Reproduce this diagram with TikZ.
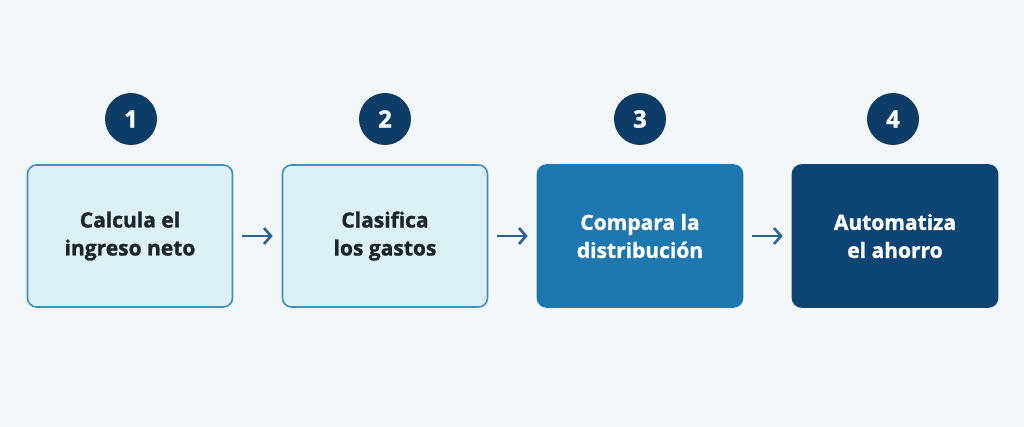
\documentclass[tikz,border=0pt]{standalone}
\usepackage{fontspec}
\setmainfont{Open Sans}[FakeBold=1.2]
\usetikzlibrary{arrows.meta}
\definecolor{bg}{HTML}{F4F7FA}
\definecolor{lightfill}{HTML}{DDF0F8}
\definecolor{lightborder}{HTML}{3F8FBD}
\definecolor{midfill}{HTML}{1E77AE}
\definecolor{darkfill}{HTML}{0E4474}
\definecolor{navy}{HTML}{0D3D66}
\definecolor{arrowc}{HTML}{2A6496}
\definecolor{txt}{HTML}{1B2530}
\tikzset{
  stepbox/.style={rounded corners=9pt, minimum width=205pt, minimum height=142pt, align=center, font=\fontsize{21}{28}\selectfont\bfseries, line width=1.6pt},
  lightbox/.style={stepbox, fill=lightfill, draw=lightborder, text=txt},
  midbox/.style={stepbox, fill=midfill, draw=midfill, text=white},
  darkbox/.style={stepbox, fill=darkfill, draw=darkfill, text=white},
  badge/.style={circle, fill=navy, text=white, minimum size=52pt, inner sep=0pt, font=\fontsize{24}{24}\selectfont\bfseries},
  flow/.style={-{Straight Barb[length=7pt,width=16pt,line width=2.6pt]}, line width=2.6pt, draw=arrowc}
}
\begin{document}
\begin{tikzpicture}[x=1pt,y=-1pt]
\fill[bg] (0,0) rectangle (1024,427);
\useasboundingbox (0,0) rectangle (1024,427);
\node[lightbox] (b1) at (130,236) {Calcula el\\ingreso neto};
\node[lightbox] (b2) at (385,236) {Clasifica\\los gastos};
\node[midbox] (b3) at (640,236) {Compara la\\distribución};
\node[darkbox] (b4) at (895,236) {Automatiza\\el ahorro};
\node[badge] (c1) at (131,119) {1};
\node[badge] (c2) at (385,119) {2};
\node[badge] (c3) at (640,119) {3};
\node[badge] (c4) at (893,119) {4};
\draw[flow] ([xshift=9pt]b1.east) -- ([xshift=-9pt]b2.west);
\draw[flow] ([xshift=9pt]b2.east) -- ([xshift=-9pt]b3.west);
\draw[flow] ([xshift=9pt]b3.east) -- ([xshift=-9pt]b4.west);
\end{tikzpicture}
\end{document}
